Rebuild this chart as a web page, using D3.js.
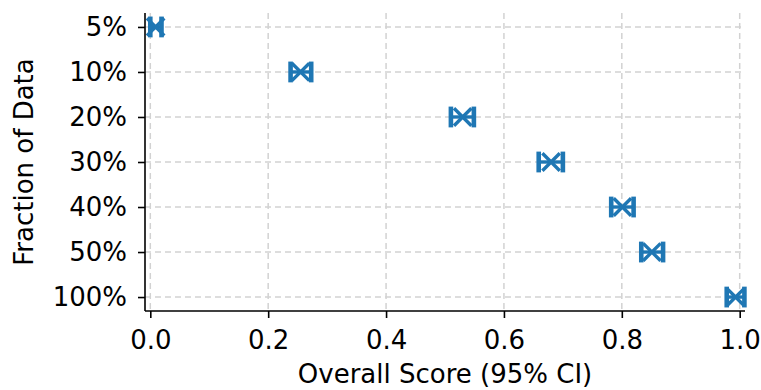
<!DOCTYPE html>
<html>
<head>
<meta charset="utf-8">
<script src="https://cdn.jsdelivr.net/npm/d3@7"></script>
<style>
  html, body { margin: 0; padding: 0; background: #fff; }
  svg { display: block; font-family: "DejaVu Sans", sans-serif; }
</style>
</head>
<body>
<svg id="chart" width="761" height="390"></svg>
<script>
// Fraction of training data used and the resulting overall score with its 95% CI
const fractions = ["5%", "10%", "20%", "30%", "40%", "50%", "100%"];
const scoreMean = [0.009, 0.255, 0.530, 0.680, 0.801, 0.851, 0.993];
const ciLow     = [0.000, 0.238, 0.510, 0.659, 0.782, 0.833, 0.978];
const ciHigh    = [0.019, 0.273, 0.549, 0.700, 0.820, 0.870, 1.008];
const xTicks = [0.0, 0.2, 0.4, 0.6, 0.8, 1.0];

const color = "#1f77b4";
const margin = { left: 145, right: 16, top: 13, bottom: 79 };
const W = 761, H = 390;
const iw = W - margin.left - margin.right;
const ih = H - margin.top - margin.bottom;

const svg = d3.select("#chart");
const g = svg.append("g").attr("transform", `translate(${margin.left},${margin.top})`);

const x = d3.scaleLinear().domain([-0.009, 1.009]).range([0, iw]);
const yIdx = d3.scaleLinear().domain([-0.31, fractions.length - 1 + 0.31]).range([0, ih]);
const y = d => yIdx(fractions.indexOf(d));

// dashed grid
const grid = g.append("g").attr("stroke", "#d2d2d2").attr("stroke-width", 1.5)
  .attr("stroke-dasharray", "6,4");
grid.selectAll("line.vx").data(xTicks).join("line")
  .attr("x1", d => x(d)).attr("x2", d => x(d)).attr("y1", 0).attr("y2", ih);
grid.selectAll("line.hy").data(fractions).join("line")
  .attr("x1", 0).attr("x2", iw).attr("y1", d => y(d)).attr("y2", d => y(d));

// error bars with caps and x markers
const pts = fractions.map((f, i) => ({ f, m: scoreMean[i], lo: ciLow[i], hi: ciHigh[i] }));
const marks = g.append("g").attr("stroke", color).attr("fill", "none");
const capH = 10.4, mk = 8.7;
pts.forEach(p => {
  const cy = y(p.f);
  marks.append("line").attr("x1", x(p.lo)).attr("x2", x(p.hi)).attr("y1", cy).attr("y2", cy)
    .attr("stroke-width", 3.4);
  [p.lo, p.hi].forEach(v => {
    marks.append("line").attr("x1", x(v)).attr("x2", x(v))
      .attr("y1", cy - capH).attr("y2", cy + capH).attr("stroke-width", 4.6);
  });
  const cx = x(p.m);
  marks.append("path")
    .attr("d", `M${cx - mk},${cy - mk}L${cx + mk},${cy + mk}M${cx - mk},${cy + mk}L${cx + mk},${cy - mk}`)
    .attr("stroke-width", 3.4);
});

// axes
const fs = 26;
const xAxis = g.append("g").attr("transform", `translate(0,${ih})`)
  .call(d3.axisBottom(x).tickValues(xTicks).tickFormat(d3.format(".1f")).tickSizeOuter(0).tickSize(7).tickPadding(13));
const yAxis = g.append("g")
  .call(d3.axisLeft(yIdx).tickValues(d3.range(fractions.length)).tickFormat(i => fractions[i]).tickSizeOuter(0).tickSize(7).tickPadding(11));
[xAxis, yAxis].forEach(a => {
  a.select(".domain").attr("stroke", "#000").attr("stroke-width", 1.6);
  a.selectAll(".tick line").attr("stroke", "#000").attr("stroke-width", 1.6);
  a.selectAll(".tick text").attr("font-size", fs).attr("fill", "#000")
    .attr("font-family", "DejaVu Sans, sans-serif");
});
// full-length spines
xAxis.select(".domain").attr("d", `M0,0H${iw}`);
yAxis.select(".domain").attr("d", `M0,0V${ih}`);

svg.append("text").attr("x", margin.left + x(0.5)).attr("y", 383)
  .attr("text-anchor", "middle").attr("font-size", fs).attr("fill", "#000")
  .text("Overall Score (95% CI)");
svg.append("text").attr("transform", `translate(33,${margin.top + ih / 2}) rotate(-90)`)
  .attr("text-anchor", "middle").attr("font-size", fs).attr("fill", "#000")
  .text("Fraction of Data");
</script>
</body>
</html>
